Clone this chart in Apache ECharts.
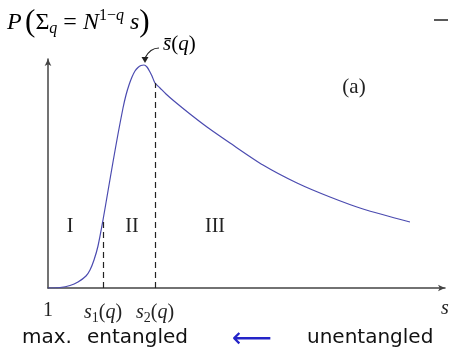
<!DOCTYPE html>
<html>
<head>
<meta charset="utf-8">
<script src="https://cdn.jsdelivr.net/npm/echarts@6/dist/echarts.min.js"></script>
<style>
  html, body { margin: 0; padding: 0; background: #fff; }
  #chart { width: 449px; height: 351px; }
</style>
</head>
<body>
<div id="chart"></div>
<script>
// curve P(s) (arbitrary units, x from s=1)
var sValues = [0, 12, 22, 30, 38, 42, 46, 50, 55, 60, 65, 70, 75, 78, 81, 84, 87, 90, 93, 96,
               99, 102, 104, 107, 112, 118, 126, 142, 159, 182, 215, 249, 282, 315, 362];
var pValues = [0, 0.5, 2.5, 6, 12, 18, 28, 42, 68, 97, 126, 154, 180, 193, 203, 211, 217,
               220.5, 222.5, 223, 221, 216, 212, 205, 200, 194, 187, 174, 161, 145,
               123, 105, 91, 79, 66];
// special points on the s axis: 1, s1(q), s2(q)
var tickValues = [0, 55, 107];
var tickLabels = ['{n|1}', '{i|s}{sub|1}{n|(}{i|q}{n|)}', '{i|s}{sub|2}{n|(}{i|q}{n|)}'];
var regionLabels = ['I', 'II', 'III'];

var serif = 'Liberation Serif';
var sans = 'DejaVu Sans';

var curve = [];
for (var i = 0; i < sValues.length; i++) curve.push([sValues[i], pValues[i]]);

// dashed lines at s1, s2 go up to the curve
function pAt(s) {
  return pValues[sValues.indexOf(s)];
}

function mathStyles(size) {
  var small = Math.round(size * 0.68);
  return {
    n: { fontFamily: serif, fontSize: size, color: '#222' },
    i: { fontFamily: serif, fontSize: size, fontStyle: 'italic', color: '#222' },
    sub: { fontFamily: serif, fontSize: small, color: '#222', padding: [size * 0.5, 0, 0, 0] },
    subi: { fontFamily: serif, fontSize: small, fontStyle: 'italic', color: '#222', padding: [size * 0.5, 0, 0, 0] },
    sup: { fontFamily: serif, fontSize: small, color: '#222', padding: [0, 0, size * 0.55, 0] },
    supi: { fontFamily: serif, fontSize: small, fontStyle: 'italic', color: '#222', padding: [0, 0, size * 0.55, 0] },
    par: { fontFamily: serif, fontSize: size * 1.3, color: '#222' }
  };
}

var chart = echarts.init(document.getElementById('chart'));
var option = {
  animation: false,
  grid: { left: 48, top: 59, width: 397, height: 229 },
  xAxis: {
    type: 'value', min: 0, max: 397,
    axisLine: { lineStyle: { color: '#444', width: 1.5 }, symbol: ['none', 'arrow'], symbolSize: [5, 7] },
    axisTick: { show: false },
    splitLine: { show: false },
    axisLabel: {
      customValues: tickValues,
      margin: 13,
      formatter: function (v) { return tickLabels[tickValues.indexOf(v)]; },
      rich: mathStyles(20)
    }
  },
  yAxis: {
    type: 'value', min: 0, max: 229,
    axisLine: { show: true, lineStyle: { color: '#444', width: 1.5 }, symbol: ['none', 'arrow'], symbolSize: [5, 7] },
    axisTick: { show: false },
    axisLabel: { show: false },
    splitLine: { show: false }
  },
  series: [{
    type: 'line',
    data: curve,
    smooth: 0.25,
    showSymbol: false,
    lineStyle: { color: '#4b4bb0', width: 1.2 },
    markLine: {
      silent: true,
      symbol: 'none',
      label: { show: false },
      lineStyle: { color: '#222', type: [6, 4], width: 1.2 },
      data: [
        [{ coord: [tickValues[1], 0] }, { coord: [tickValues[1], pAt(tickValues[1])] }],
        [{ coord: [tickValues[2], 0] }, { coord: [tickValues[2], pAt(tickValues[2])] }]
      ]
    }
  }],
  graphic: [
    { type: 'text', left: 7, top: 7,
      style: { text: '{i|P} {par|(}{n|Σ}{subi|q}{n| = }{i|N}{sup|1−}{supi|q}{i| s}{par|)}', rich: mathStyles(24) } },
    { type: 'text', left: 163, top: 34,
      style: { text: '{i|s̄}{n|(}{i|q}{n|)}', rich: mathStyles(21) } },
    { type: 'bezierCurve', shape: { x1: 159, y1: 48, cpx1: 150, cpy1: 48, x2: 145, y2: 58 },
      style: { stroke: '#222', lineWidth: 1.2, fill: null } },
    { type: 'polygon', shape: { points: [[141.5, 57], [148.5, 57], [145, 63]] }, style: { fill: '#222' } },
    { type: 'text', x: 354, y: 87, style: { text: '(a)', font: '21px "' + serif + '"', fill: '#222', align: 'center', verticalAlign: 'middle' } },
    { type: 'text', x: 70, y: 227, style: { text: regionLabels[0], font: '20px "' + serif + '"', fill: '#222', align: 'center', verticalAlign: 'middle' } },
    { type: 'text', x: 132, y: 227, style: { text: regionLabels[1], font: '20px "' + serif + '"', fill: '#222', align: 'center', verticalAlign: 'middle' } },
    { type: 'text', x: 215, y: 227, style: { text: regionLabels[2], font: '20px "' + serif + '"', fill: '#222', align: 'center', verticalAlign: 'middle' } },
    { type: 'text', x: 445, y: 309, style: { text: 's', font: 'italic 20px "' + serif + '"', fill: '#222', align: 'center', verticalAlign: 'middle' } },
    { type: 'line', shape: { x1: 434, y1: 20, x2: 448, y2: 20 }, style: { stroke: '#222', lineWidth: 1.5 } },
    { type: 'text', left: 22, y: 338, style: { text: 'max.', font: '20px "' + sans + '"', fill: '#111', verticalAlign: 'middle' } },
    { type: 'text', left: 87, y: 338, style: { text: 'entangled', font: '20px "' + sans + '"', fill: '#111', verticalAlign: 'middle' } },
    { type: 'text', x: 252, y: 340, style: { text: '⟵', font: '28px "' + sans + '"', fill: '#2424c8', align: 'center', verticalAlign: 'middle' } },
    { type: 'text', left: 307, y: 338, style: { text: 'unentangled', font: '20px "' + sans + '"', fill: '#111', verticalAlign: 'middle' } }
  ]
};
chart.setOption(option);
</script>
</body>
</html>
